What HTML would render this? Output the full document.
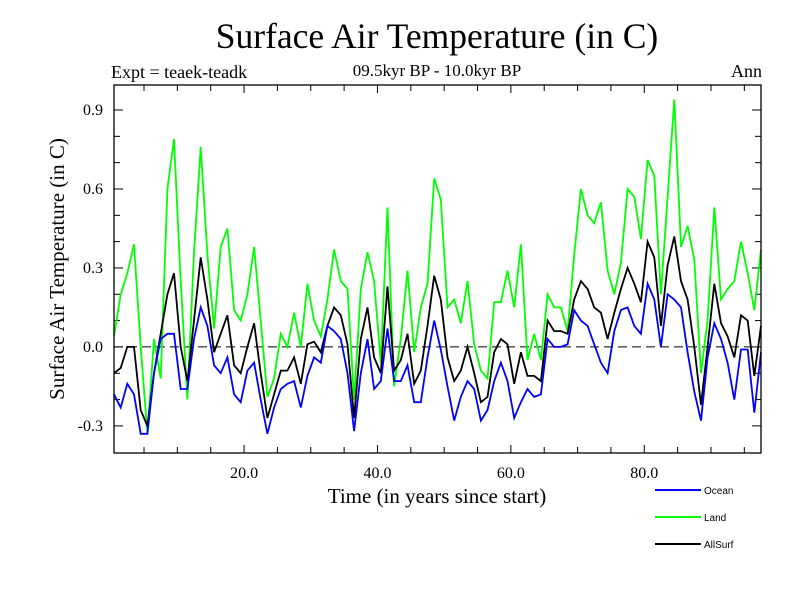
<!DOCTYPE html>
<html><head><meta charset="utf-8"><style>
body{margin:0;background:#fff;}
svg{display:block;font-family:"Liberation Serif",serif;}
</style></head><body>
<svg id="chart" width="800" height="600">
<text x="437" y="48" font-size="35.5" text-anchor="middle">Surface Air Temperature (in C)</text>
<text x="437" y="76" font-size="17" text-anchor="middle">09.5kyr BP - 10.0kyr BP</text>
<text x="111" y="78" font-size="18">Expt = teaek-teadk</text>
<text x="762" y="77" font-size="18" text-anchor="end">Ann</text>
<text transform="translate(64,269) rotate(-90)" font-size="21" text-anchor="middle">Surface Air Temperature (in C)</text>
<text x="437" y="503" font-size="21" text-anchor="middle">Time (in years since start)</text>
<g id="ticks"></g>
<g id="series"></g>
<rect x="114" y="85" width="647" height="368" fill="none" stroke="#000" stroke-width="1.3"/>
<g>
<line x1="655" y1="490" x2="701" y2="490" stroke="#0000ff" stroke-width="2"/>
<text x="704" y="494" font-size="10" font-family="Liberation Sans,sans-serif">Ocean</text>
<line x1="655" y1="517" x2="701" y2="517" stroke="#00ff00" stroke-width="2"/>
<text x="704" y="521" font-size="10" font-family="Liberation Sans,sans-serif">Land</text>
<line x1="655" y1="544" x2="701" y2="544" stroke="#000" stroke-width="2"/>
<text x="704" y="548" font-size="10" font-family="Liberation Sans,sans-serif">AllSurf</text>
</g>
</svg>
<script>
const xTickLabels = ["20.0","40.0","60.0","80.0"];
const xTickValues = [20,40,60,80];
const yTickValues = [-0.3,0,0.3,0.6,0.9];
const yTickLabels = ["-0.3","0.0","0.3","0.6","0.9"];
const land = [0.04,0.20,0.28,0.39,0.0,-0.33,0.03,-0.12,0.6,0.79,0.25,-0.2,0.36,0.76,0.35,0.07,0.38,0.45,0.14,0.1,0.2,0.38,0.1,-0.19,-0.12,0.05,0.0,0.13,0.0,0.24,0.1,0.04,0.18,
0.37,0.25,0.22,-0.2,0.22,0.36,0.25,-0.06,0.53,-0.15,0.03,0.29,-0.02,0.15,0.24,0.64,0.56,0.15,0.18,0.09,0.25,0.01,-0.09,-0.12,0.17,0.17,0.29,0.15,0.39,-0.05,0.05,-0.05,
0.2,0.15,0.15,0.06,0.35,0.6,0.5,0.47,0.55,0.29,0.2,0.32,0.6,0.57,0.41,0.71,0.65,0.2,0.57,0.94,0.38,0.46,0.33,-0.1,0.1,0.53,0.18,0.22,0.25,0.4,0.28,0.14,0.37];
const allsurf = [-0.1,-0.08,0.0,0.0,-0.24,-0.3,-0.1,0.05,0.2,0.28,0.0,-0.13,0.1,0.34,0.18,-0.02,0.05,0.12,-0.07,-0.1,0.0,0.09,-0.1,-0.27,-0.18,-0.09,-0.09,-0.04,-0.14,0.01,0.02,-0.02,0.08,
0.15,0.12,0.01,-0.27,0.03,0.15,-0.04,-0.1,0.23,-0.09,-0.05,0.05,-0.14,-0.09,0.08,0.27,0.18,-0.04,-0.13,-0.09,0.0,-0.1,-0.21,-0.19,-0.02,0.03,0.01,-0.14,-0.02,-0.11,-0.11,-0.13,
0.1,0.06,0.06,0.05,0.18,0.25,0.22,0.15,0.13,0.03,0.13,0.22,0.3,0.24,0.17,0.4,0.34,0.08,0.31,0.42,0.25,0.18,0.0,-0.22,0.0,0.24,0.09,0.04,-0.04,0.12,0.1,-0.11,0.08];
const ocean = [-0.18,-0.23,-0.14,-0.18,-0.33,-0.33,-0.1,0.03,0.05,0.05,-0.16,-0.16,0.03,0.15,0.08,-0.07,-0.1,-0.04,-0.18,-0.21,-0.09,-0.06,-0.2,-0.33,-0.23,-0.16,-0.14,-0.13,-0.23,-0.11,-0.04,-0.06,0.08,
0.06,0.03,-0.1,-0.32,-0.1,0.03,-0.16,-0.13,0.07,-0.13,-0.13,-0.07,-0.21,-0.21,-0.04,0.1,-0.01,-0.15,-0.28,-0.19,-0.13,-0.16,-0.28,-0.24,-0.13,-0.06,-0.13,-0.27,-0.21,-0.16,-0.19,-0.18,
0.03,0.0,0.0,0.01,0.14,0.1,0.08,0.01,-0.06,-0.1,0.06,0.14,0.15,0.08,0.05,0.24,0.18,0.0,0.2,0.18,0.15,-0.02,-0.17,-0.28,-0.04,0.09,0.03,-0.06,-0.2,-0.01,-0.01,-0.25,-0.02];
const X0=114,X1=761,Y0=453,Y1=85, XMIN=0.5, XMAX=97.5, YMIN=-0.403, YMAX=0.995;
const sx=v=>X0+(v-XMIN)/(XMAX-XMIN)*(X1-X0);
const sy=v=>Y0-(v-YMIN)/(YMAX-YMIN)*(Y0-Y1);
const NS="http://www.w3.org/2000/svg";
const tg=document.getElementById('ticks');
function mk(tag,attrs,parent){const e=document.createElementNS(NS,tag);for(const k in attrs)e.setAttribute(k,attrs[k]);parent.appendChild(e);return e;}
for(let v=5;v<=95;v+=5){
  const L=(v%20===0)?8:6;
  const a=mk('line',{x1:sx(v),x2:sx(v),y1:Y0,y2:Y0-L,stroke:'#000','stroke-width':1},tg);
  
  
  const b=mk('line',{x1:sx(v),x2:sx(v),y1:Y1,y2:Y1+L,stroke:'#000','stroke-width':1},tg);
  
  
}
xTickValues.forEach((v,i)=>{
  const t=mk('text',{x:sx(v),y:478,'font-size':16,'text-anchor':'middle'},tg);
  t.textContent=xTickLabels[i];
  
  
});
for(let i=-3;i<=9;i++){
  const v=i/10;
  const L=(i%3===0)?9:6;
  const a=mk('line',{x1:X0,x2:X0+L,y1:sy(v),y2:sy(v),stroke:'#000','stroke-width':1},tg);
  
  
  const b=mk('line',{x1:X1,x2:X1-L,y1:sy(v),y2:sy(v),stroke:'#000','stroke-width':1},tg);
  
  
}
yTickValues.forEach((v,i)=>{
  const t=mk('text',{x:103,y:sy(v)+5,'font-size':16,'text-anchor':'end'},tg);
  t.textContent=yTickLabels[i];
  
  
});
const zl=mk('line',{x1:X0,x2:X1,y1:sy(0),y2:sy(0),stroke:'#000','stroke-width':1,'stroke-dasharray':'9,5'},tg);


const sg=document.getElementById('series');
function draw(arr,color,name){
  const pts=arr.map((v,i)=>sx(i+0.5).toFixed(1)+','+sy(v).toFixed(1)).join(' ');
  const p=mk('polyline',{points:pts,fill:'none',stroke:color,'stroke-width':1.8,'stroke-linejoin':'miter'},sg);
  
  
}
draw(land,'#00ff00','land-line');
draw(allsurf,'#000000','allsurf-line');
draw(ocean,'#0000ff','ocean-line');
</script>
</body></html>
